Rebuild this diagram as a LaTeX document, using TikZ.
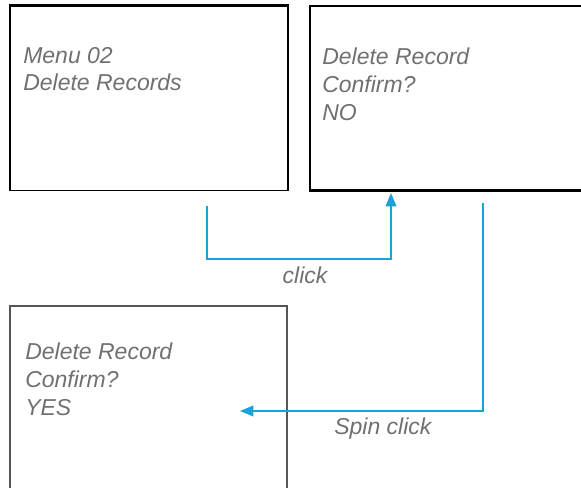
\documentclass[tikz,border=0pt]{standalone}
\usepackage{fontspec}
\setmainfont{Liberation Sans}
\usetikzlibrary{arrows.meta}
\definecolor{flowblue}{RGB}{27,161,214}
\definecolor{labelgray}{RGB}{112,112,112}
\definecolor{framegray}{RGB}{85,85,85}

\begin{document}
\begin{tikzpicture}[x=0.75pt,y=-0.75pt,
    screen/.style={draw,rectangle,inner sep=0pt,minimum height=138.4pt},
    lcd/.style={anchor=north west,inner sep=0pt,align=left,text=labelgray,font=\fontsize{17.25}{21}\selectfont\itshape},
    flow/.style={flowblue,line width=1.1pt,-{Triangle[length=10pt,width=8pt]}},
    tag/.style={text=labelgray,inner sep=0pt,font=\fontsize{17.25}{21}\selectfont\itshape}]
    \useasboundingbox (0,0) rectangle (581,488);
    % screens
    \node [screen,line width=1.2pt,minimum width=208.5pt] (menu) at (149,98.25) {};%
    \draw [line width=2.2pt] (menu.north west) -- (menu.north east);
    \node [screen,line width=2.2pt,minimum width=210pt] (confirmno) at (450,98.25) {};%
    \node [screen,framegray,line width=1.2pt,minimum width=207.75pt] (confirmyes) at (148.5,398.25) {};%
    % screen texts
    \node [lcd,font=\fontsize{17.25}{19.8}\selectfont\itshape] (menutxt) at (23,47.5) {Menu 02\\Delete Records};%
    \node [lcd] (notxt) at (322,47.5) {Delete Record\\Confirm?\\NO};%
    \node [lcd,font=\fontsize{17.25}{21.2}\selectfont\itshape] (yestxt) at (25,342.5) {Delete Record\\Confirm?\\YES};%
    % transitions
    \coordinate (clickstart) at (207,206);
    \coordinate (clickend) at (391,193);
    \draw [flow] (clickstart) -- ++(0,53) -| (clickend);
    \node [tag,anchor=base] (clicklbl) at (305,283) {click};%
    \coordinate (spinstart) at (483,203);
    \coordinate (spinend) at (240,411);
    \draw [flow] (spinstart) |- (spinend);
    \node [tag,anchor=base west] (spinlbl) at (334,434) {Spin click};%
\end{tikzpicture}
\end{document}
